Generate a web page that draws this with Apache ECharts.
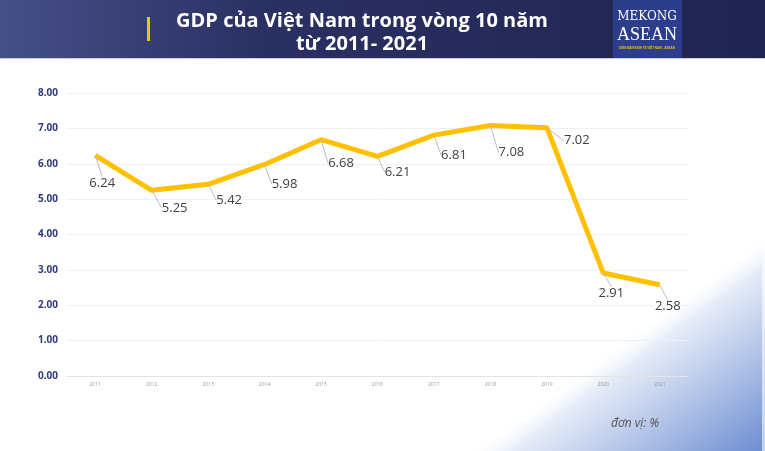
<!DOCTYPE html>
<html><head><meta charset="utf-8">
<script src="https://cdn.jsdelivr.net/npm/echarts@6/dist/echarts.min.js"></script>
<style>html,body{margin:0;padding:0;background:#fff}#c{width:765px;height:451px}</style>
</head><body><div id="c"></div>
<script>
var years = ['2011','2012','2013','2014','2015','2016','2017','2018','2019','2020','2021'];
var gdp = [6.24, 5.25, 5.42, 5.98, 6.68, 6.21, 6.81, 7.08, 7.02, 2.91, 2.58];
var yTicks = [0, 1, 2, 3, 4, 5, 6, 7, 8];
var titleLines = ['GDP của Việt Nam trong vòng 10 năm', 'từ 2011- 2021'];
var unitText = 'đơn vị: %';
// label displacement (style only)
var labelShift = [[7,28],[23,18],[21,16],[20,20],[20,24],[20,16],[20,20],[21,27],[30,13],[8,20],[8,22]];

var chart = echarts.init(document.getElementById('c'), null, {renderer:'canvas'});
chart.setOption({
  backgroundColor: '#ffffff',
  animation: false,
  graphic: [
    {type:'rect', z:-10, silent:true, shape:{x:0,y:0,width:765,height:451},
     style:{fill:{type:'linear', global:true, x:661, y:309, x2:765, y2:451,
       colorStops:[{offset:0,color:'rgba(255,255,255,0)'},{offset:0.15,color:'#e6ecf8'},{offset:0.4,color:'#c4d1ed'},{offset:1,color:'#6c8dd1'}]}}},
    {type:'rect', z:-9, silent:true, shape:{x:762,y:58,width:3,height:393}, style:{fill:'rgba(255,255,255,0.6)'}},
    {type:'rect', z:10, shape:{x:0,y:0,width:765,height:58},
     style:{fill:{type:'linear', x:0, y:0, x2:1, y2:0.3,
       colorStops:[{offset:0,color:'#464f88'},{offset:0.35,color:'#2a3062'},{offset:1,color:'#1f2450'}]}}},
    {type:'rect', z:10, shape:{x:0,y:58,width:765,height:1}, style:{fill:'#c9cede'}},
    {type:'rect', z:11, shape:{x:147,y:17,width:3,height:24}, style:{fill:'#f6c400'}},
    {type:'rect', z:11, shape:{x:613,y:0,width:69,height:58}, style:{fill:'#2c3e8b'}},
    {type:'text', z:12, x:647, y:17, style:{text:'MEKONG', fill:'#fff', font:'12px "DejaVu Serif", serif', align:'center', verticalAlign:'middle'}},
    {type:'text', z:12, x:647, y:35, style:{text:'ASEAN', fill:'#fff', font:'18px "Liberation Serif", serif', align:'center', verticalAlign:'middle'}},
    {type:'text', z:12, x:647, y:48, style:{text:'DIỄN ĐÀN KINH TẾ VIỆT NAM - ASEAN', fill:'#f0c000', font:'bold 3px sans-serif', align:'center', verticalAlign:'middle'}},
    {type:'text', z:12, x:362, y:21, style:{text:titleLines[0], fill:'#fff', font:'bold 20px "Open Sans", sans-serif', align:'center', verticalAlign:'middle'}},
    {type:'text', z:12, x:362, y:44, style:{text:titleLines[1], fill:'#fff', font:'bold 20px "Open Sans", sans-serif', align:'center', verticalAlign:'middle'}},
    {type:'text', z:12, x:635, y:424, style:{text:unitText, fill:'#555', font:'italic 12px "Open Sans", sans-serif', align:'center', verticalAlign:'middle'}}
  ],
  grid: {left:67, right:77, top:93, bottom:75},
  xAxis: {
    type:'category', data: years, boundaryGap:true,
    axisLine:{show:true, lineStyle:{color:'#e3e3e3', width:1}},
    axisTick:{show:false},
    axisLabel:{fontSize:5, color:'#9a9a9a', margin:6, fontFamily:'Open Sans'}
  },
  yAxis: {
    type:'value', min:yTicks[0], max:yTicks[yTicks.length-1], interval:1,
    axisLine:{show:false}, axisTick:{show:false},
    splitLine:{lineStyle:{color:'#edf0f7', width:1}},
    axisLabel:{fontSize:10, fontWeight:'bold', color:'#2f3a7c', margin:9, fontFamily:'Open Sans',
      formatter:function(v){return v.toFixed(2);}}
  },
  series: [{
    type:'line', data: gdp,
    symbol:'circle', symbolSize:1, showSymbol:true,
    lineStyle:{color:'#ffc000', width:5},
    itemStyle:{color:'#ffc000'},
    label:{show:true, position:'inside', fontSize:13, color:'#404040', fontFamily:'Open Sans',
      formatter:function(p){return p.value.toFixed(2);}},
    labelLine:{show:true, lineStyle:{color:'#bdbdbd', width:1}},
    labelLayout:function(p){var s=labelShift[p.dataIndex];return {dx:s[0], dy:s[1]};}
  }]
});
</script></body></html>
